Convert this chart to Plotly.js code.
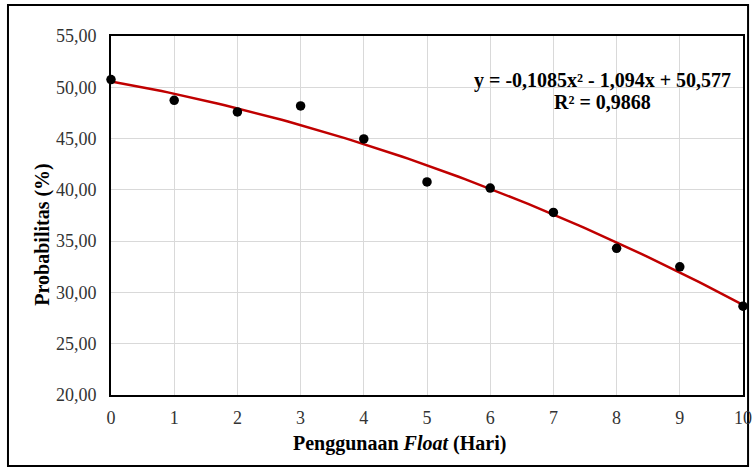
<!DOCTYPE html>
<html>
<head>
<meta charset="utf-8">
<script src="https://cdn.plot.ly/plotly-3.0.1.min.js"></script>
<style>html,body{margin:0;padding:0;background:#fff;}#chart{width:753px;height:470px;}</style>
</head>
<body>
<div id="chart"></div>
<script>
// Data
const days = [0, 1, 2, 3, 4, 5, 6, 7, 8, 9, 10];
const probability = [50.75, 48.73, 47.6, 48.18, 44.97, 40.77, 40.17, 37.8, 34.3, 32.5, 28.66];
// Polynomial trendline coefficients shown on the chart
const trendA = -0.1085;
const trendB = -1.094;
const trendC = 50.577;
const equationText = "y = -0,1085x² - 1,094x + 50,577";
const r2Text = "R² = 0,9868";
const xTitle = "Penggunaan <i>Float</i> (Hari)";
const yTitle = "Probabilitas (%)";
const xTicks = [0, 1, 2, 3, 4, 5, 6, 7, 8, 9, 10];
const yTicks = [20, 25, 30, 35, 40, 45, 50, 55];

const trendX = [];
const trendY = [];
for (let i = 0; i <= 100; i++) {
  const x = i / 10;
  trendX.push(x);
  trendY.push(trendA * x * x + trendB * x + trendC);
}

const font = "'Liberation Serif', 'Times New Roman', serif";

const data = [
  {x: trendX, y: trendY, type: 'scatter', mode: 'lines',
   line: {color: '#c00000', width: 2.5}, hoverinfo: 'skip', cliponaxis: false},
  {x: days, y: probability, type: 'scatter', mode: 'markers',
   marker: {color: '#000000', size: 9.5}, cliponaxis: false}
];

const layout = {
  width: 753, height: 470,
  margin: {l: 111, r: 10, t: 36, b: 75},
  paper_bgcolor: '#ffffff', plot_bgcolor: '#ffffff',
  showlegend: false,
  separators: ',.',
  font: {family: font, size: 18, color: '#000'},
  xaxis: {
    range: [0, 10], tickvals: xTicks, ticktext: xTicks.map(String),
    showgrid: true, gridcolor: '#d9d9d9', gridwidth: 1,
    zeroline: false, showline: true, linecolor: '#000', linewidth: 2, mirror: true,
    ticks: '', ticklen: 0, ticklabelstandoff: 5,
    tickfont: {family: font, size: 18, color: '#333'}
  },
  yaxis: {
    range: [20, 55], tickvals: yTicks, tickformat: '.2f',
    showgrid: true, gridcolor: '#d9d9d9', gridwidth: 1,
    zeroline: false, showline: true, linecolor: '#000', linewidth: 2, mirror: true,
    ticks: '', ticklen: 0, ticklabelstandoff: 9,
    tickfont: {family: font, size: 18, color: '#333'}
  },
  shapes: [
    {type: 'rect', xref: 'paper', yref: 'paper',
     x0: -0.163, x1: 1.008, y0: -0.198, y1: 1.0865,
     line: {color: '#000', width: 2}, fillcolor: 'rgba(0,0,0,0)', layer: 'below'}
  ],
  annotations: [
    {xref: 'paper', yref: 'paper', x: 0.778, y: 0.877, xanchor: 'center', yanchor: 'middle',
     text: '<b>' + equationText + '</b>', showarrow: false,
     font: {family: font, size: 20, color: '#000'}},
    {xref: 'paper', yref: 'paper', x: 0.778, y: 0.816, xanchor: 'center', yanchor: 'middle',
     text: '<b>' + r2Text + '</b>', showarrow: false,
     font: {family: font, size: 20, color: '#000'}},
    {xref: 'paper', yref: 'paper', x: 0.457, y: -0.134, xanchor: 'center', yanchor: 'middle',
     text: '<b>' + xTitle + '</b>', showarrow: false,
     font: {family: font, size: 20, color: '#000'}},
    {xref: 'paper', yref: 'paper', x: -0.109, y: 0.447, xanchor: 'center', yanchor: 'middle',
     text: '<b>' + yTitle + '</b>', showarrow: false, textangle: -90,
     font: {family: font, size: 20, color: '#000'}}
  ]
};

Plotly.newPlot('chart', data, layout, {displayModeBar: false, staticPlot: true});
</script>
</body>
</html>
